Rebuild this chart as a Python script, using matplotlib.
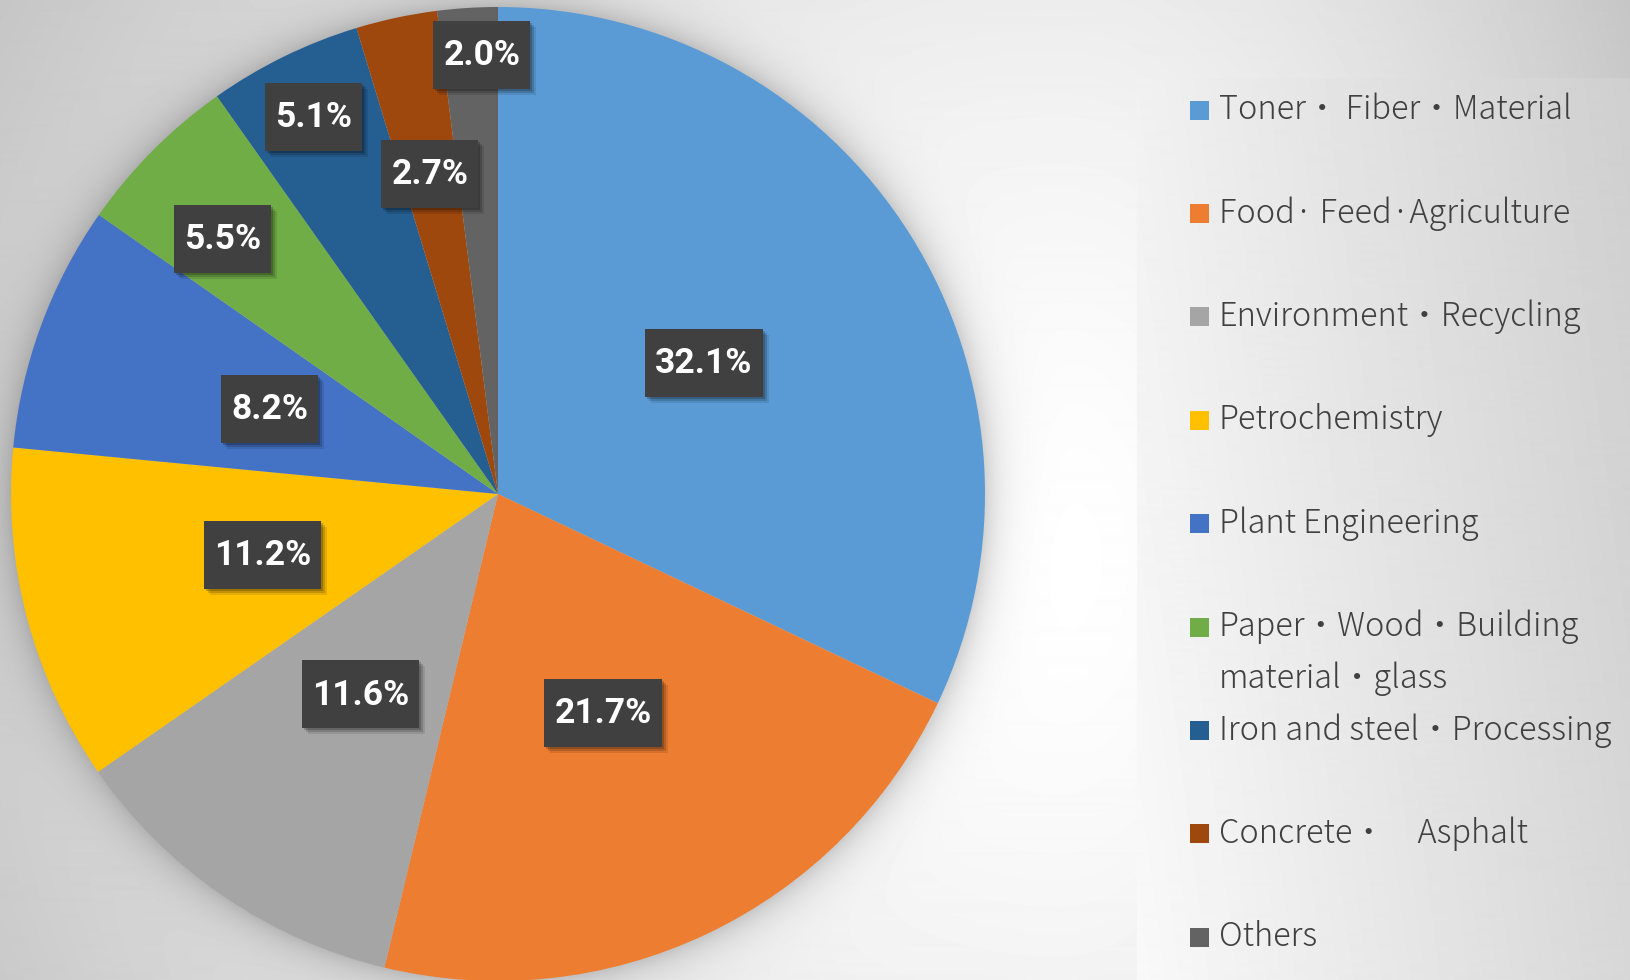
import numpy as np
import matplotlib
matplotlib.use('Agg')
import matplotlib.pyplot as plt
from matplotlib.patches import Rectangle
from matplotlib.transforms import IdentityTransform

# =================================================================================
# Pie chart: sales share by industry
# =================================================================================

categories = ['Toner・ Fiber・Material', 'Food· Feed·Agriculture', 'Environment・Recycling',
              'Petrochemistry', 'Plant Engineering', 'Paper・Wood・Building\nmaterial・glass',
              'Iron and steel・Processing', 'Concrete・\u3000Asphalt', 'Others']
shares = [32.1, 21.7, 11.6, 11.2, 8.2, 5.5, 5.1, 2.7, 2.0]
colors = ['#5B9BD5', '#ED7D31', '#A5A5A5', '#FFC000', '#4472C4',
          '#70AD47', '#255E91', '#9E480E', '#636363']
# where each data label sits: distance from centre and a small angle nudge (deg)
label_radius = [0.5, 0.5, 0.5, 0.5, 0.5, 0.77, 0.86, 0.67, 0.90]
label_nudge = [0, 0, 0, 0, 0, 2.2, 0, 0, -1.5]

W, H = 1630, 980
CX, CY, R = 498, 494, 487

fig = plt.figure(figsize=(W / 100, H / 100), dpi=100)

# Background: soft radial gradient, glow round the pie, lighter legend panel
yy, xx = np.mgrid[0:H, 0:W].astype(float)
dx = (xx - 1060) / np.where(xx < 1060, 1300, 700)
dy = (yy - 560) / 1300
r = np.sqrt(dx ** 2 + dy ** 2)
bg = 255 - 65 * np.clip(r, 0, 1.2) ** 1.5
d = np.sqrt((xx - CX) ** 2 + (yy - CY) ** 2) - R
glow = np.where(d > 0, 0.17 * np.exp(-np.clip(d, 0, None) / 18), 0.17)
bg = bg * (1 - glow)
panel = (xx >= 1137) & (yy >= 79)
fx = (xx - 1137) / (W - 1137)
fy = (yy - 79) / (H - 79)
bg = np.where(panel, 249 - 34 * fx - 8 * (1 - fy), bg)

bg_ax = fig.add_axes([0, 0, 1, 1])
bg_ax.imshow(bg, cmap='gray', vmin=0, vmax=255, aspect='auto', interpolation='bilinear')
bg_ax.axis('off')

# Pie
ax = fig.add_axes([(CX - R) / W, (H - CY - R) / H, 2 * R / W, 2 * R / H])
ax.patch.set_alpha(0)
wedges, _ = ax.pie(shares, colors=colors, startangle=90, counterclock=False,
                   radius=1, wedgeprops=dict(linewidth=0))
ax.set_xlim(-1, 1)
ax.set_ylim(-1, 1)
ax.set_aspect('equal')
ax.axis('off')

texts = []
for w, v, rr, nd in zip(wedges, shares, label_radius, label_nudge):
    mid = np.deg2rad((w.theta1 + w.theta2) / 2 + nd)
    t = ax.text(rr * np.cos(mid), rr * np.sin(mid), f'{v:.1f}%', ha='center', va='center',
                color='white', fontsize=25.5, fontweight='bold',
                family=['Roboto', 'DejaVu Sans'], zorder=6)
    texts.append(t)

# dark label boxes with a small drop shadow
fig.canvas.draw()
for t in texts:
    bb = t.get_window_extent()
    bw = bb.width + 20
    bh = 68
    x0 = bb.x0 - 10
    y0 = bb.y0 + bb.height / 2 + 1 - bh / 2
    for k, a in [(6, 0.10), (4, 0.15), (2, 0.2)]:
        ax.add_artist(Rectangle((x0 + k, y0 - k), bw, bh, transform=IdentityTransform(),
                                facecolor='black', alpha=a, lw=0, zorder=4, clip_on=False))
    ax.add_artist(Rectangle((x0, y0), bw, bh, transform=IdentityTransform(),
                            facecolor='#404040', lw=0, zorder=5, clip_on=False))

# Legend
for i, (lab, c) in enumerate(zip(categories, colors)):
    y_px = 110 + 103.4 * i
    fig.add_artist(Rectangle((1190, H - y_px - 9.5), 19, 19, transform=IdentityTransform(),
                             facecolor=c, lw=0))
    for j, line in enumerate(lab.split('\n')):
        fig.text(1219 / W, 1 - (y_px + 52 * j) / H, line, va='center', ha='left',
                 fontsize=23.4, fontweight=300, color='#404040',
                 family=['Noto Sans CJK JP', 'DejaVu Sans'])

fig.savefig('out.png', dpi=100)
